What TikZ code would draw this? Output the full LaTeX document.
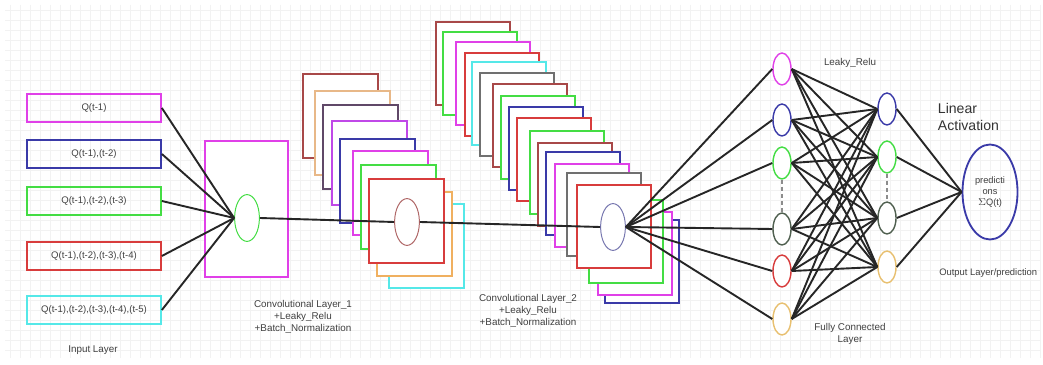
\documentclass[tikz,border=0pt]{standalone}
\usepackage{fontspec}
\setmainfont{Liberation Sans}
\usetikzlibrary{shapes.geometric}
\definecolor{cmag}{HTML}{E040E8}
\definecolor{cnavy}{HTML}{3A3AA8}
\definecolor{cgreen}{HTML}{44DD44}
\definecolor{cred}{HTML}{D83C3C}
\definecolor{ccyan}{HTML}{55E8E8}
\definecolor{corange}{HTML}{F0B060}
\definecolor{cbrown}{HTML}{A84848}
\definecolor{cgray}{HTML}{707070}
\definecolor{cpeach}{HTML}{E8B888}
\definecolor{cplum}{HTML}{604868}
\definecolor{cviolet}{HTML}{C048E8}
\definecolor{cdkgreen}{HTML}{506050}
\definecolor{cgold}{HTML}{E8C070}
\definecolor{cpink}{HTML}{B06868}
\definecolor{clilac}{HTML}{7878B0}

\begin{document}
\begin{tikzpicture}[x=0.025cm, y=-0.025cm,
	inbox/.style={draw=#1, line width=1.2pt, minimum width=3.35cm, minimum height=0.7cm, inner sep=0pt, font=\fontsize{6.8}{8}\selectfont, text=black!75},
	neuron/.style={ellipse, draw=#1, line width=1pt, fill=white, minimum width=0.45cm, minimum height=0.8cm, inner sep=0pt},
	fmap/.style={draw=#1, line width=1.1pt, fill=white},
	convcell/.style={ellipse, draw=#1, line width=0.7pt, minimum width=0.62cm, minimum height=1.17cm, inner sep=0pt},
	wire/.style={black!85, line width=1.35pt},
	lbl/.style={font=\fontsize{7}{8.4}\selectfont, text=black!75, align=center}]
	\useasboundingbox (0,0) rectangle (1043,365);
	\fill[white] (0,0) rectangle (1043,365);
	\foreach \g in {10,20,...,1040} \draw[black!5, line width=0.3pt] (\g,5) -- (\g,358);
	\foreach \g in {10,20,...,350} \draw[black!5, line width=0.3pt] (5,\g) -- (1040,\g);

	\node[inbox=cmag] (in1) at (94,108) {Q(t-1)};
	\node[inbox=cnavy] (in2) at (94,154) {Q(t-1),(t-2)};
	\node[inbox=cgreen] (in3) at (94,201) {Q(t-1),(t-2),(t-3)};
	\node[inbox=cred] (in4) at (94,256) {Q(t-1),(t-2),(t-3),(t-4)};
	\node[inbox=ccyan] (in5) at (94,310) {Q(t-1),(t-2),(t-3),(t-4),(t-5)};
	\node[lbl] (inlbl) at (93,350) {Input Layer};

	\draw[fmap=cmag] (205,141) rectangle (288,277);
	\node[convcell=cgreen] (e1) at (247,218) {};

	\foreach \x/\y/\c in {389/204/ccyan, 377/192/corange, 303/74/cbrown, 315/91/cpeach, 323/105/cplum, 332/121/cviolet, 340/139/cnavy, 353/151/cmag, 361/165/cgreen, 369/179/cred}
		\draw[fmap=\c] (\x,\y) rectangle ++(75,84);
	\node[convcell=cpink] (e2) at (407,222) {};
	\node[lbl] (c1lbl) at (303,317) {Convolutional Layer\_1\\+Leaky\_Relu\\+Batch\_Normalization};

	\foreach \x/\y/\c in {605/220/cnavy, 598/212/cmag, 589/200/cgreen, 436/22/cbrown, 443/32/cgreen, 456/42/cmag, 465/53/cred, 472/62/ccyan, 480/73/cgray, 493/84/cbrown, 501/96/cgreen, 509/107/cnavy, 517/118/cred, 530/131/cgreen, 538/143/cbrown, 546/152/cnavy, 555/164/cmag, 567/173/cgray, 577/185/cred}
		\draw[fmap=\c] (\x,\y) rectangle ++(74,83);
	\node[convcell=clilac] (e3) at (613,227) {};
	\node[lbl] (c2lbl) at (528,311) {Convolutional Layer\_2\\+Leaky\_Relu\\+Batch\_Normalization};

	\foreach \i/\y/\c in {1/69/cmag, 2/120/cnavy, 3/163/cgreen, 4/229/cdkgreen, 5/271/cred, 6/319/cgold}
		\node[neuron=\c] (n\i) at (782,\y) {};
	\foreach \j/\y/\c in {1/109/cnavy, 2/157/cgreen, 3/218/cdkgreen, 4/267/cgold}
		\node[neuron=\c] (m\j) at (887,\y) {};
	\node[ellipse, draw=cnavy, line width=1.3pt, minimum width=1.375cm, minimum height=2.375cm, inner sep=0pt, align=center, font=\fontsize{6.6}{8}\selectfont, text=black!75] (out) at (990,192) {predicti\\ons\\$\Sigma$Q(t)};

	\draw[black!45, densely dashed, line width=0.8pt] (n3.south) -- (n4.north);
	\draw[black!45, densely dashed, line width=0.8pt] (m2.south) -- (m3.north);

	\foreach \i in {1,...,5} \draw[wire] (in\i.east) -- (e1.west);
	\draw[wire] (e1.east) -- (e2.west);
	\draw[wire] (e2.east) -- (e3.west);
	\foreach \i in {1,...,6} \draw[wire] (e3.east) -- (n\i.west);
	\foreach \i in {1,...,6} \foreach \j in {1,...,4} \draw[wire] (n\i.east) -- (m\j.west);
	\foreach \j in {1,...,4} \draw[wire] (m\j.east) -- (out.west);

	\node[lbl] (relu) at (850,63) {Leaky\_Relu};
	\node[lbl] (fclbl) at (850,334) {Fully Connected\\Layer};
	\node[anchor=west, align=left, font=\fontsize{10}{12}\selectfont, text=black!80] (linact) at (933,117) {Linear\\Activation};
	\node[lbl, anchor=west, inner sep=0pt, font=\fontsize{6.7}{8}\selectfont] (outlbl) at (939,273) {Output Layer/prediction};
\end{tikzpicture}
\end{document}
